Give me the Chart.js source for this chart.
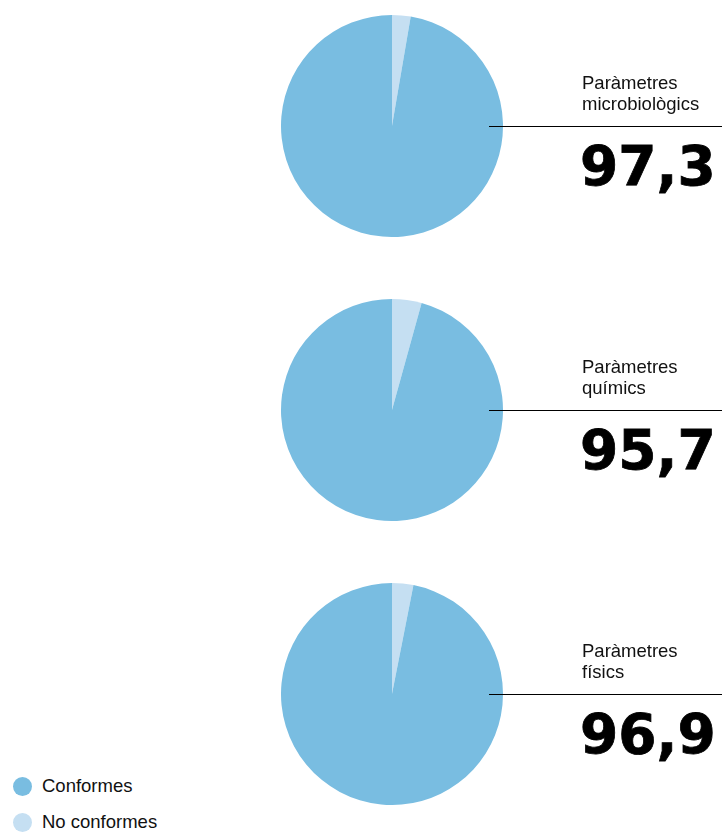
<!DOCTYPE html>
<html>
<head>
<meta charset="utf-8">
<script src="https://cdn.jsdelivr.net/npm/chart.js@4"></script>
<style>
  html, body { margin: 0; padding: 0; background: #fff; }
  body { width: 722px; height: 832px; position: relative; overflow: hidden; font-family: "Liberation Sans", Arial, sans-serif; }
  .pie { position: absolute; left: 281px; width: 222px; height: 222px; }
  .rule { position: absolute; left: 489px; width: 233px; height: 0; border-top: 1px solid #000; }
  .label { position: absolute; left: 582px; font-size: 18.5px; line-height: 21px; color: #111; }
  .value { position: absolute; left: 580px; font-family: "DejaVu Sans", sans-serif; font-weight: bold; font-size: 55px; line-height: 1; -webkit-text-stroke: 0.8px #000; color: #000; }
  .legend { position: absolute; left: 13px; font-size: 18.5px; color: #111; }
  .legend div { height: 36px; display: flex; align-items: center; }
  .legend span.dot { display: inline-block; width: 19px; height: 19px; border-radius: 50%; margin-right: 10px; }
</style>
</head>
<body>
<div id="wrap"></div>
<div class="legend" id="legend" style="top:768px"></div>
<script>
const groups = ['Paràmetres\nmicrobiològics', 'Paràmetres\nquímics', 'Paràmetres\nfísics'];
const valueLabels = ['97,3', '95,7', '96,9'];
const conformes = [97.3, 95.7, 96.9];
const noConformes = [2.7, 4.3, 3.1];
const seriesNames = ['Conformes', 'No conformes'];
const colors = ['#79bde1', '#c5dff2'];

const centers = [126, 410, 694];
const wrap = document.getElementById('wrap');

groups.forEach((g, i) => {
    const cy = centers[i];

    const box = document.createElement('div');
    box.className = 'pie';
    box.style.top = (cy - 111) + 'px';
    const canvas = document.createElement('canvas');
    canvas.width = 222;
    canvas.height = 222;
    box.appendChild(canvas);
    wrap.appendChild(box);

    new Chart(canvas.getContext('2d'), {
        type: 'pie',
        data: {
            labels: [seriesNames[1], seriesNames[0]],
            datasets: [{
                data: [noConformes[i], conformes[i]],
                backgroundColor: [colors[1], colors[0]],
                borderWidth: 0
            }]
        },
        options: {
            responsive: false,
            animation: false,
            layout: { padding: 0 },
            plugins: {
                legend: { display: false },
                tooltip: { enabled: false }
            }
        }
    });

    const rule = document.createElement('div');
    rule.className = 'rule';
    rule.style.top = cy + 'px';
    wrap.appendChild(rule);

    const label = document.createElement('div');
    label.className = 'label';
    label.style.top = (cy - 54) + 'px';
    label.innerHTML = g.split('\n').join('<br>');
    wrap.appendChild(label);

    const value = document.createElement('div');
    value.className = 'value';
    value.style.top = (cy + 13) + 'px';
    value.textContent = valueLabels[i];
    wrap.appendChild(value);
});

const legend = document.getElementById('legend');
seriesNames.forEach((name, i) => {
    const row = document.createElement('div');
    row.innerHTML = '<span class="dot" style="background:' + colors[i] + '"></span>' + name;
    legend.appendChild(row);
});
</script>
</body>
</html>
